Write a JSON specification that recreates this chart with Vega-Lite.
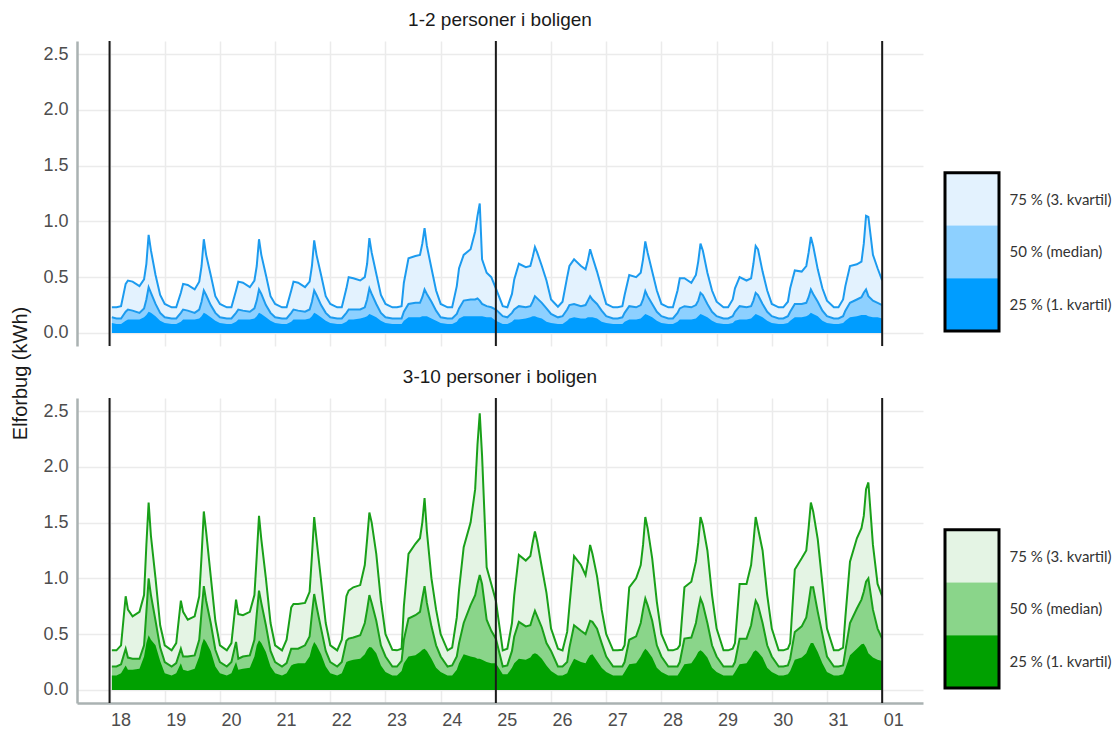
{
"$schema": "https://vega.github.io/schema/vega-lite/v6.json",
"background": "white",
"padding": {"left": 10, "top": 11, "right": 0, "bottom": 0},
"config": {"view": {"stroke": null}, "font": "Liberation Sans", "axis": {"gridColor": "#EBEBEB", "gridWidth": 1.5}},
"resolve": {"scale": {"color": "independent"}},
"datasets": {
"q": [
{"t":18.042,"a25":0.09,"a50":0.14,"a75":0.23,"b25":0.13,"b50":0.21,"b75":0.355},
{"t":18.125,"a25":0.08,"a50":0.13,"a75":0.23,"b25":0.13,"b50":0.21,"b75":0.355},
{"t":18.208,"a25":0.08,"a50":0.13,"a75":0.24,"b25":0.15,"b50":0.23,"b75":0.40},
{"t":18.292,"a25":0.11,"a50":0.19,"a75":0.44,"b25":0.22,"b50":0.37,"b75":0.84},
{"t":18.333,"a25":0.12,"a50":0.21,"a75":0.47,"b25":0.18,"b50":0.29,"b75":0.72},
{"t":18.417,"a25":0.12,"a50":0.20,"a75":0.46,"b25":0.18,"b50":0.28,"b75":0.66},
{"t":18.542,"a25":0.12,"a50":0.18,"a75":0.42,"b25":0.19,"b50":0.28,"b75":0.70},
{"t":18.625,"a25":0.14,"a50":0.22,"a75":0.48,"b25":0.30,"b50":0.40,"b75":0.85},
{"t":18.667,"a25":0.16,"a50":0.30,"a75":0.62,"b25":0.42,"b50":0.70,"b75":1.30},
{"t":18.708,"a25":0.19,"a50":0.41,"a75":0.88,"b25":0.49,"b50":1.00,"b75":1.68},
{"t":18.75,"a25":0.18,"a50":0.36,"a75":0.74,"b25":0.45,"b50":0.85,"b75":1.38},
{"t":18.833,"a25":0.15,"a50":0.26,"a75":0.52,"b25":0.40,"b50":0.62,"b75":1.00},
{"t":18.917,"a25":0.11,"a50":0.18,"a75":0.34,"b25":0.26,"b50":0.38,"b75":0.58},
{"t":19.0,"a25":0.09,"a50":0.14,"a75":0.26,"b25":0.15,"b50":0.25,"b75":0.40},
{"t":19.125,"a25":0.08,"a50":0.13,"a75":0.23,"b25":0.13,"b50":0.21,"b75":0.355},
{"t":19.208,"a25":0.08,"a50":0.13,"a75":0.23,"b25":0.15,"b50":0.24,"b75":0.42},
{"t":19.292,"a25":0.10,"a50":0.18,"a75":0.36,"b25":0.24,"b50":0.37,"b75":0.80},
{"t":19.333,"a25":0.12,"a50":0.21,"a75":0.44,"b25":0.18,"b50":0.30,"b75":0.70},
{"t":19.417,"a25":0.12,"a50":0.20,"a75":0.43,"b25":0.17,"b50":0.30,"b75":0.63},
{"t":19.542,"a25":0.12,"a50":0.18,"a75":0.39,"b25":0.19,"b50":0.31,"b75":0.66},
{"t":19.625,"a25":0.13,"a50":0.21,"a75":0.46,"b25":0.30,"b50":0.45,"b75":0.84},
{"t":19.667,"a25":0.15,"a50":0.28,"a75":0.60,"b25":0.40,"b50":0.70,"b75":1.20},
{"t":19.708,"a25":0.18,"a50":0.38,"a75":0.84,"b25":0.46,"b50":0.93,"b75":1.60},
{"t":19.75,"a25":0.17,"a50":0.34,"a75":0.70,"b25":0.43,"b50":0.80,"b75":1.42},
{"t":19.833,"a25":0.14,"a50":0.25,"a75":0.52,"b25":0.35,"b50":0.60,"b75":1.02},
{"t":19.917,"a25":0.11,"a50":0.18,"a75":0.33,"b25":0.21,"b50":0.36,"b75":0.62},
{"t":20.0,"a25":0.09,"a50":0.14,"a75":0.26,"b25":0.15,"b50":0.25,"b75":0.40},
{"t":20.125,"a25":0.08,"a50":0.13,"a75":0.23,"b25":0.13,"b50":0.21,"b75":0.355},
{"t":20.208,"a25":0.08,"a50":0.13,"a75":0.23,"b25":0.15,"b50":0.25,"b75":0.42},
{"t":20.292,"a25":0.10,"a50":0.18,"a75":0.38,"b25":0.25,"b50":0.43,"b75":0.81},
{"t":20.333,"a25":0.12,"a50":0.21,"a75":0.46,"b25":0.18,"b50":0.28,"b75":0.68},
{"t":20.417,"a25":0.12,"a50":0.20,"a75":0.45,"b25":0.19,"b50":0.30,"b75":0.67},
{"t":20.542,"a25":0.12,"a50":0.19,"a75":0.41,"b25":0.20,"b50":0.31,"b75":0.70},
{"t":20.625,"a25":0.13,"a50":0.22,"a75":0.47,"b25":0.30,"b50":0.45,"b75":0.85},
{"t":20.667,"a25":0.15,"a50":0.29,"a75":0.60,"b25":0.40,"b50":0.68,"b75":1.20},
{"t":20.708,"a25":0.18,"a50":0.39,"a75":0.84,"b25":0.445,"b50":0.89,"b75":1.56},
{"t":20.75,"a25":0.17,"a50":0.35,"a75":0.70,"b25":0.42,"b50":0.78,"b75":1.35},
{"t":20.833,"a25":0.14,"a50":0.25,"a75":0.52,"b25":0.34,"b50":0.58,"b75":1.00},
{"t":20.917,"a25":0.11,"a50":0.18,"a75":0.33,"b25":0.21,"b50":0.35,"b75":0.60},
{"t":21.0,"a25":0.09,"a50":0.14,"a75":0.26,"b25":0.15,"b50":0.25,"b75":0.40},
{"t":21.125,"a25":0.08,"a50":0.13,"a75":0.23,"b25":0.13,"b50":0.21,"b75":0.355},
{"t":21.208,"a25":0.08,"a50":0.13,"a75":0.23,"b25":0.15,"b50":0.24,"b75":0.45},
{"t":21.292,"a25":0.10,"a50":0.18,"a75":0.38,"b25":0.22,"b50":0.37,"b75":0.74},
{"t":21.333,"a25":0.12,"a50":0.21,"a75":0.46,"b25":0.23,"b50":0.37,"b75":0.77},
{"t":21.417,"a25":0.12,"a50":0.20,"a75":0.45,"b25":0.24,"b50":0.37,"b75":0.77},
{"t":21.542,"a25":0.12,"a50":0.19,"a75":0.41,"b25":0.24,"b50":0.40,"b75":0.78},
{"t":21.625,"a25":0.13,"a50":0.21,"a75":0.46,"b25":0.30,"b50":0.48,"b75":0.88},
{"t":21.667,"a25":0.15,"a50":0.28,"a75":0.60,"b25":0.38,"b50":0.68,"b75":1.20},
{"t":21.708,"a25":0.18,"a50":0.38,"a75":0.83,"b25":0.43,"b50":0.86,"b75":1.55},
{"t":21.75,"a25":0.17,"a50":0.34,"a75":0.70,"b25":0.40,"b50":0.75,"b75":1.35},
{"t":21.833,"a25":0.14,"a50":0.25,"a75":0.52,"b25":0.32,"b50":0.55,"b75":0.98},
{"t":21.917,"a25":0.11,"a50":0.18,"a75":0.33,"b25":0.21,"b50":0.35,"b75":0.60},
{"t":22.0,"a25":0.09,"a50":0.14,"a75":0.26,"b25":0.15,"b50":0.25,"b75":0.40},
{"t":22.125,"a25":0.08,"a50":0.13,"a75":0.23,"b25":0.13,"b50":0.21,"b75":0.355},
{"t":22.208,"a25":0.08,"a50":0.13,"a75":0.23,"b25":0.15,"b50":0.25,"b75":0.45},
{"t":22.292,"a25":0.10,"a50":0.18,"a75":0.40,"b25":0.25,"b50":0.44,"b75":0.84},
{"t":22.333,"a25":0.12,"a50":0.21,"a75":0.50,"b25":0.26,"b50":0.46,"b75":0.89},
{"t":22.417,"a25":0.12,"a50":0.21,"a75":0.49,"b25":0.27,"b50":0.47,"b75":0.92},
{"t":22.542,"a25":0.13,"a50":0.21,"a75":0.47,"b25":0.28,"b50":0.49,"b75":0.94},
{"t":22.625,"a25":0.14,"a50":0.23,"a75":0.50,"b25":0.32,"b50":0.60,"b75":1.12},
{"t":22.667,"a25":0.15,"a50":0.30,"a75":0.62,"b25":0.36,"b50":0.72,"b75":1.35},
{"t":22.708,"a25":0.17,"a50":0.40,"a75":0.85,"b25":0.385,"b50":0.85,"b75":1.59},
{"t":22.75,"a25":0.16,"a50":0.35,"a75":0.72,"b25":0.38,"b50":0.78,"b75":1.50},
{"t":22.833,"a25":0.14,"a50":0.26,"a75":0.53,"b25":0.33,"b50":0.62,"b75":1.22},
{"t":22.917,"a25":0.11,"a50":0.18,"a75":0.34,"b25":0.22,"b50":0.40,"b75":0.80},
{"t":23.0,"a25":0.09,"a50":0.14,"a75":0.26,"b25":0.16,"b50":0.30,"b75":0.50},
{"t":23.125,"a25":0.08,"a50":0.13,"a75":0.23,"b25":0.13,"b50":0.21,"b75":0.36},
{"t":23.208,"a25":0.08,"a50":0.13,"a75":0.23,"b25":0.13,"b50":0.21,"b75":0.355},
{"t":23.292,"a25":0.08,"a50":0.13,"a75":0.24,"b25":0.17,"b50":0.26,"b75":0.37},
{"t":23.333,"a25":0.11,"a50":0.19,"a75":0.45,"b25":0.24,"b50":0.45,"b75":0.75},
{"t":23.417,"a25":0.14,"a50":0.26,"a75":0.67,"b25":0.30,"b50":0.64,"b75":1.22},
{"t":23.542,"a25":0.14,"a50":0.27,"a75":0.69,"b25":0.31,"b50":0.67,"b75":1.31},
{"t":23.625,"a25":0.14,"a50":0.27,"a75":0.70,"b25":0.34,"b50":0.70,"b75":1.36},
{"t":23.667,"a25":0.15,"a50":0.32,"a75":0.80,"b25":0.36,"b50":0.82,"b75":1.50},
{"t":23.708,"a25":0.15,"a50":0.39,"a75":0.94,"b25":0.37,"b50":0.93,"b75":1.72},
{"t":23.75,"a25":0.15,"a50":0.35,"a75":0.78,"b25":0.35,"b50":0.78,"b75":1.42},
{"t":23.833,"a25":0.13,"a50":0.28,"a75":0.58,"b25":0.28,"b50":0.57,"b75":1.00},
{"t":23.917,"a25":0.11,"a50":0.20,"a75":0.38,"b25":0.20,"b50":0.40,"b75":0.72},
{"t":24.0,"a25":0.09,"a50":0.14,"a75":0.26,"b25":0.16,"b50":0.30,"b75":0.50},
{"t":24.125,"a25":0.08,"a50":0.13,"a75":0.23,"b25":0.13,"b50":0.21,"b75":0.355},
{"t":24.208,"a25":0.08,"a50":0.13,"a75":0.23,"b25":0.13,"b50":0.22,"b75":0.38},
{"t":24.292,"a25":0.10,"a50":0.17,"a75":0.42,"b25":0.18,"b50":0.30,"b75":0.65},
{"t":24.333,"a25":0.13,"a50":0.22,"a75":0.58,"b25":0.24,"b50":0.42,"b75":0.90},
{"t":24.417,"a25":0.15,"a50":0.29,"a75":0.70,"b25":0.32,"b50":0.60,"b75":1.28},
{"t":24.542,"a25":0.15,"a50":0.30,"a75":0.75,"b25":0.30,"b50":0.76,"b75":1.50},
{"t":24.625,"a25":0.15,"a50":0.30,"a75":0.91,"b25":0.29,"b50":0.85,"b75":1.80},
{"t":24.667,"a25":0.15,"a50":0.31,"a75":1.05,"b25":0.28,"b50":0.95,"b75":2.20},
{"t":24.708,"a25":0.15,"a50":0.29,"a75":1.16,"b25":0.28,"b50":1.03,"b75":2.48},
{"t":24.75,"a25":0.15,"a50":0.26,"a75":0.66,"b25":0.27,"b50":0.95,"b75":2.10},
{"t":24.833,"a25":0.14,"a50":0.24,"a75":0.54,"b25":0.25,"b50":0.63,"b75":1.10},
{"t":24.917,"a25":0.14,"a50":0.23,"a75":0.50,"b25":0.24,"b50":0.53,"b75":0.95},
{"t":25.0,"a25":0.11,"a50":0.21,"a75":0.40,"b25":0.24,"b50":0.46,"b75":0.80},
{"t":25.125,"a25":0.08,"a50":0.15,"a75":0.24,"b25":0.14,"b50":0.21,"b75":0.355},
{"t":25.208,"a25":0.08,"a50":0.14,"a75":0.23,"b25":0.14,"b50":0.22,"b75":0.37},
{"t":25.292,"a25":0.10,"a50":0.18,"a75":0.35,"b25":0.20,"b50":0.35,"b75":0.60},
{"t":25.333,"a25":0.12,"a50":0.21,"a75":0.48,"b25":0.24,"b50":0.48,"b75":0.85},
{"t":25.417,"a25":0.12,"a50":0.24,"a75":0.62,"b25":0.28,"b50":0.61,"b75":1.21},
{"t":25.542,"a25":0.13,"a50":0.23,"a75":0.59,"b25":0.27,"b50":0.57,"b75":1.16},
{"t":25.625,"a25":0.14,"a50":0.24,"a75":0.60,"b25":0.29,"b50":0.58,"b75":1.20},
{"t":25.667,"a25":0.15,"a50":0.28,"a75":0.68,"b25":0.32,"b50":0.65,"b75":1.32},
{"t":25.708,"a25":0.15,"a50":0.33,"a75":0.77,"b25":0.33,"b50":0.71,"b75":1.42},
{"t":25.75,"a25":0.14,"a50":0.31,"a75":0.72,"b25":0.32,"b50":0.66,"b75":1.33},
{"t":25.833,"a25":0.13,"a50":0.27,"a75":0.60,"b25":0.28,"b50":0.56,"b75":1.10},
{"t":25.917,"a25":0.10,"a50":0.22,"a75":0.47,"b25":0.22,"b50":0.42,"b75":0.87},
{"t":26.0,"a25":0.09,"a50":0.17,"a75":0.30,"b25":0.17,"b50":0.35,"b75":0.55},
{"t":26.125,"a25":0.08,"a50":0.14,"a75":0.235,"b25":0.13,"b50":0.21,"b75":0.37},
{"t":26.208,"a25":0.08,"a50":0.15,"a75":0.28,"b25":0.13,"b50":0.21,"b75":0.355},
{"t":26.292,"a25":0.11,"a50":0.21,"a75":0.50,"b25":0.15,"b50":0.25,"b75":0.52},
{"t":26.333,"a25":0.13,"a50":0.25,"a75":0.60,"b25":0.20,"b50":0.38,"b75":0.75},
{"t":26.417,"a25":0.14,"a50":0.26,"a75":0.66,"b25":0.28,"b50":0.58,"b75":1.20},
{"t":26.542,"a25":0.13,"a50":0.24,"a75":0.60,"b25":0.25,"b50":0.53,"b75":1.12},
{"t":26.625,"a25":0.13,"a50":0.25,"a75":0.57,"b25":0.24,"b50":0.50,"b75":1.03},
{"t":26.667,"a25":0.14,"a50":0.29,"a75":0.65,"b25":0.28,"b50":0.56,"b75":1.15},
{"t":26.708,"a25":0.14,"a50":0.33,"a75":0.75,"b25":0.31,"b50":0.62,"b75":1.30},
{"t":26.75,"a25":0.14,"a50":0.30,"a75":0.68,"b25":0.32,"b50":0.61,"b75":1.22},
{"t":26.833,"a25":0.13,"a50":0.26,"a75":0.55,"b25":0.26,"b50":0.55,"b75":1.02},
{"t":26.917,"a25":0.10,"a50":0.20,"a75":0.40,"b25":0.20,"b50":0.42,"b75":0.72},
{"t":27.0,"a25":0.09,"a50":0.15,"a75":0.26,"b25":0.16,"b50":0.30,"b75":0.50},
{"t":27.125,"a25":0.08,"a50":0.13,"a75":0.23,"b25":0.13,"b50":0.21,"b75":0.355},
{"t":27.208,"a25":0.08,"a50":0.13,"a75":0.23,"b25":0.13,"b50":0.21,"b75":0.355},
{"t":27.292,"a25":0.08,"a50":0.14,"a75":0.24,"b25":0.13,"b50":0.21,"b75":0.36},
{"t":27.333,"a25":0.10,"a50":0.18,"a75":0.34,"b25":0.16,"b50":0.25,"b75":0.40},
{"t":27.417,"a25":0.12,"a50":0.24,"a75":0.52,"b25":0.23,"b50":0.45,"b75":0.92},
{"t":27.542,"a25":0.12,"a50":0.23,"a75":0.50,"b25":0.24,"b50":0.48,"b75":1.00},
{"t":27.625,"a25":0.13,"a50":0.25,"a75":0.54,"b25":0.30,"b50":0.60,"b75":1.12},
{"t":27.667,"a25":0.15,"a50":0.30,"a75":0.66,"b25":0.34,"b50":0.72,"b75":1.30},
{"t":27.708,"a25":0.17,"a50":0.376,"a75":0.82,"b25":0.37,"b50":0.82,"b75":1.55},
{"t":27.75,"a25":0.16,"a50":0.33,"a75":0.72,"b25":0.35,"b50":0.76,"b75":1.45},
{"t":27.833,"a25":0.14,"a50":0.26,"a75":0.55,"b25":0.29,"b50":0.62,"b75":1.18},
{"t":27.917,"a25":0.11,"a50":0.19,"a75":0.38,"b25":0.20,"b50":0.40,"b75":0.79},
{"t":28.0,"a25":0.09,"a50":0.15,"a75":0.26,"b25":0.16,"b50":0.30,"b75":0.50},
{"t":28.125,"a25":0.08,"a50":0.13,"a75":0.23,"b25":0.13,"b50":0.21,"b75":0.355},
{"t":28.208,"a25":0.08,"a50":0.13,"a75":0.23,"b25":0.13,"b50":0.21,"b75":0.355},
{"t":28.292,"a25":0.10,"a50":0.18,"a75":0.38,"b25":0.13,"b50":0.21,"b75":0.37},
{"t":28.333,"a25":0.12,"a50":0.22,"a75":0.49,"b25":0.16,"b50":0.25,"b75":0.40},
{"t":28.417,"a25":0.12,"a50":0.24,"a75":0.49,"b25":0.23,"b50":0.46,"b75":0.92},
{"t":28.542,"a25":0.12,"a50":0.23,"a75":0.45,"b25":0.24,"b50":0.47,"b75":0.97},
{"t":28.625,"a25":0.13,"a50":0.25,"a75":0.52,"b25":0.30,"b50":0.60,"b75":1.15},
{"t":28.667,"a25":0.15,"a50":0.29,"a75":0.64,"b25":0.34,"b50":0.72,"b75":1.32},
{"t":28.708,"a25":0.17,"a50":0.36,"a75":0.80,"b25":0.355,"b50":0.82,"b75":1.55},
{"t":28.75,"a25":0.16,"a50":0.34,"a75":0.74,"b25":0.34,"b50":0.77,"b75":1.48},
{"t":28.833,"a25":0.14,"a50":0.26,"a75":0.54,"b25":0.29,"b50":0.60,"b75":1.25},
{"t":28.917,"a25":0.11,"a50":0.19,"a75":0.38,"b25":0.20,"b50":0.40,"b75":0.85},
{"t":29.0,"a25":0.09,"a50":0.15,"a75":0.28,"b25":0.16,"b50":0.30,"b75":0.55},
{"t":29.125,"a25":0.08,"a50":0.13,"a75":0.23,"b25":0.13,"b50":0.21,"b75":0.355},
{"t":29.208,"a25":0.08,"a50":0.13,"a75":0.23,"b25":0.13,"b50":0.21,"b75":0.355},
{"t":29.292,"a25":0.09,"a50":0.15,"a75":0.30,"b25":0.13,"b50":0.21,"b75":0.37},
{"t":29.333,"a25":0.11,"a50":0.19,"a75":0.40,"b25":0.16,"b50":0.25,"b75":0.42},
{"t":29.417,"a25":0.12,"a50":0.24,"a75":0.50,"b25":0.23,"b50":0.46,"b75":0.95},
{"t":29.542,"a25":0.12,"a50":0.23,"a75":0.47,"b25":0.24,"b50":0.46,"b75":0.95},
{"t":29.625,"a25":0.13,"a50":0.24,"a75":0.49,"b25":0.30,"b50":0.58,"b75":1.12},
{"t":29.667,"a25":0.15,"a50":0.29,"a75":0.62,"b25":0.34,"b50":0.70,"b75":1.32},
{"t":29.708,"a25":0.17,"a50":0.36,"a75":0.78,"b25":0.355,"b50":0.80,"b75":1.55},
{"t":29.75,"a25":0.16,"a50":0.34,"a75":0.75,"b25":0.34,"b50":0.76,"b75":1.45},
{"t":29.833,"a25":0.14,"a50":0.26,"a75":0.55,"b25":0.29,"b50":0.60,"b75":1.25},
{"t":29.917,"a25":0.11,"a50":0.19,"a75":0.38,"b25":0.20,"b50":0.40,"b75":0.85},
{"t":30.0,"a25":0.09,"a50":0.15,"a75":0.26,"b25":0.16,"b50":0.30,"b75":0.55},
{"t":30.125,"a25":0.08,"a50":0.13,"a75":0.23,"b25":0.13,"b50":0.21,"b75":0.355},
{"t":30.208,"a25":0.08,"a50":0.13,"a75":0.23,"b25":0.13,"b50":0.21,"b75":0.355},
{"t":30.292,"a25":0.09,"a50":0.15,"a75":0.28,"b25":0.14,"b50":0.22,"b75":0.37},
{"t":30.333,"a25":0.11,"a50":0.19,"a75":0.40,"b25":0.17,"b50":0.28,"b75":0.42},
{"t":30.417,"a25":0.14,"a50":0.26,"a75":0.56,"b25":0.27,"b50":0.52,"b75":1.08},
{"t":30.542,"a25":0.14,"a50":0.26,"a75":0.55,"b25":0.29,"b50":0.57,"b75":1.18},
{"t":30.625,"a25":0.15,"a50":0.27,"a75":0.60,"b25":0.33,"b50":0.65,"b75":1.25},
{"t":30.667,"a25":0.16,"a50":0.32,"a75":0.72,"b25":0.38,"b50":0.78,"b75":1.45},
{"t":30.708,"a25":0.18,"a50":0.39,"a75":0.86,"b25":0.42,"b50":0.92,"b75":1.68},
{"t":30.75,"a25":0.17,"a50":0.35,"a75":0.78,"b25":0.42,"b50":0.92,"b75":1.60},
{"t":30.833,"a25":0.15,"a50":0.28,"a75":0.57,"b25":0.34,"b50":0.70,"b75":1.35},
{"t":30.917,"a25":0.11,"a50":0.20,"a75":0.40,"b25":0.24,"b50":0.50,"b75":0.95},
{"t":31.0,"a25":0.09,"a50":0.15,"a75":0.29,"b25":0.16,"b50":0.30,"b75":0.55},
{"t":31.125,"a25":0.08,"a50":0.13,"a75":0.23,"b25":0.13,"b50":0.21,"b75":0.355},
{"t":31.208,"a25":0.08,"a50":0.13,"a75":0.23,"b25":0.13,"b50":0.21,"b75":0.355},
{"t":31.292,"a25":0.09,"a50":0.15,"a75":0.30,"b25":0.14,"b50":0.22,"b75":0.38},
{"t":31.333,"a25":0.11,"a50":0.20,"a75":0.42,"b25":0.19,"b50":0.35,"b75":0.65},
{"t":31.417,"a25":0.14,"a50":0.27,"a75":0.60,"b25":0.31,"b50":0.60,"b75":1.15},
{"t":31.542,"a25":0.15,"a50":0.30,"a75":0.615,"b25":0.37,"b50":0.73,"b75":1.36},
{"t":31.625,"a25":0.16,"a50":0.32,"a75":0.64,"b25":0.41,"b50":0.81,"b75":1.45},
{"t":31.667,"a25":0.16,"a50":0.36,"a75":0.80,"b25":0.415,"b50":0.88,"b75":1.56},
{"t":31.708,"a25":0.16,"a50":0.39,"a75":1.05,"b25":0.38,"b50":0.97,"b75":1.80},
{"t":31.75,"a25":0.15,"a50":0.33,"a75":1.04,"b25":0.33,"b50":1.00,"b75":1.86},
{"t":31.833,"a25":0.14,"a50":0.29,"a75":0.70,"b25":0.29,"b50":0.72,"b75":1.30},
{"t":31.917,"a25":0.14,"a50":0.27,"a75":0.58,"b25":0.27,"b50":0.55,"b75":0.95},
{"t":32.0,"a25":0.13,"a50":0.25,"a75":0.47,"b25":0.26,"b50":0.46,"b75":0.84}
],
"weeks": [{"w":18},{"w":25},{"w":32}],
"lg": [{"k":"75 % (3. kvartil)","lo":2,"hi":3},{"k":"50 % (median)","lo":1,"hi":2},{"k":"25 % (1. kvartil)","lo":0,"hi":1}]
},
"columns": 2,
"spacing": {"row": 52, "column": 22},
"bounds": "flush",
"concat": [
{
"data": {"name": "q"},
"width": 846, "height": 305,
"title": {"text": "1-2 personer i boligen", "fontSize": 19, "fontWeight": "normal", "color": "#1A1A1A", "offset": 10, "font": "Liberation Sans"},
"layer": [
{"mark": {"type": "area", "color": "#E3F2FE"}, "encoding": {
"x": {"field": "t", "type": "quantitative", "scale": {"domain": [17.41, 32.74], "nice": false, "zero": false}, "axis": {"title": null, "values": [18,19,20,21,22,23,24,25,26,27,28,29,30,31,32], "labels": false, "ticks": false, "domain": false, "grid": true}},
"y": {"field": "a75", "type": "quantitative", "scale": {"domain": [-0.117, 2.617], "nice": false, "zero": false}, "axis": {"title": "Elforbug (kWh)", "values": [0,0.5,1,1.5,2,2.5], "format": ".1f", "labelFontSize": 18, "labelColor": "#4D4D4D", "ticks": false, "domainColor": "#AAB2B2", "domainWidth": 2.5, "labelPadding": 9, "grid": true, "titleFontSize": 20, "titleFontWeight": "normal", "titleColor": "#1A1A1A", "titleX": -47, "titleY": 332, "titleAngle": 270, "titleBaseline": "bottom", "titleAlign": "center"}},
"y2": {"datum": 0}}},
{"mark": {"type": "area", "color": "#8DD0FF"}, "encoding": {"x": {"field": "t", "type": "quantitative"}, "y": {"field": "a50", "type": "quantitative"}, "y2": {"datum": 0}}},
{"mark": {"type": "area", "color": "#009DFF"}, "encoding": {"x": {"field": "t", "type": "quantitative"}, "y": {"field": "a25", "type": "quantitative"}, "y2": {"datum": 0}}},
{"mark": {"type": "line", "color": "#1C9BEF", "strokeWidth": 2}, "encoding": {"x": {"field": "t", "type": "quantitative"}, "y": {"field": "a75", "type": "quantitative"}}},
{"mark": {"type": "line", "color": "#1C9BEF", "strokeWidth": 2}, "encoding": {"x": {"field": "t", "type": "quantitative"}, "y": {"field": "a50", "type": "quantitative"}}},
{"data": {"name": "weeks"}, "mark": {"type": "rule", "color": "#1A1A1A", "strokeWidth": 2}, "encoding": {"x": {"field": "w", "type": "quantitative"}}}
]
},
{
"data": {"name": "lg"},
"width": 54, "height": 305,
"layer": [
{"mark": {"type": "rect"}, "encoding": {
"y": {"field": "lo", "type": "quantitative", "scale": {"domain": [-0.285, 5.5], "nice": false, "zero": false}, "axis": {"orient": "right", "title": null, "values": [0.5,1.5,2.5], "labelExpr": "datum.value < 1 ? '25 % (1. kvartil)' : datum.value < 2 ? '50 % (median)' : '75 % (3. kvartil)'", "domain": false, "ticks": false, "grid": false, "labelFont": "Lato", "labelFontSize": 15, "labelColor": "#333333", "labelPadding": 10}},
"y2": {"field": "hi"},
"color": {"field": "k", "type": "nominal", "scale": {"domain": ["75 % (3. kvartil)","50 % (median)","25 % (1. kvartil)"], "range": ["#E3F2FE","#8DD0FF","#009DFF"]}, "legend": null}}},
{"transform": [{"aggregate": [{"op": "min", "field": "lo", "as": "lo"}, {"op": "max", "field": "hi", "as": "hi"}]}],
"mark": {"type": "rect", "fillOpacity": 0, "stroke": "#000000", "strokeWidth": 3}, "encoding": {"y": {"field": "lo", "type": "quantitative"}, "y2": {"field": "hi"}}}
]
},
{
"data": {"name": "q"},
"width": 846, "height": 305,
"title": {"text": "3-10 personer i boligen", "fontSize": 19, "fontWeight": "normal", "color": "#1A1A1A", "offset": 10, "font": "Liberation Sans"},
"layer": [
{"mark": {"type": "area", "color": "#E4F4E4"}, "encoding": {
"x": {"field": "t", "type": "quantitative", "scale": {"domain": [17.41, 32.74], "nice": false, "zero": false}, "axis": {"title": null, "values": [18,19,20,21,22,23,24,25,26,27,28,29,30,31,32], "labelExpr": "datum.value == 32 ? '01' : '' + datum.value", "labelOffset": 11, "labelFontSize": 18, "labelColor": "#4D4D4D", "labelPadding": 8, "ticks": false, "domain": true, "domainColor": "#AAB2B2", "domainWidth": 2.5, "grid": true}},
"y": {"field": "b75", "type": "quantitative", "scale": {"domain": [-0.117, 2.617], "nice": false, "zero": false}, "axis": {"title": null, "values": [0,0.5,1,1.5,2,2.5], "format": ".1f", "labelFontSize": 18, "labelColor": "#4D4D4D", "ticks": false, "domainColor": "#AAB2B2", "domainWidth": 2.5, "labelPadding": 9, "grid": true}},
"y2": {"datum": 0}}},
{"mark": {"type": "area", "color": "#8AD58A"}, "encoding": {"x": {"field": "t", "type": "quantitative"}, "y": {"field": "b50", "type": "quantitative"}, "y2": {"datum": 0}}},
{"mark": {"type": "area", "color": "#00A000"}, "encoding": {"x": {"field": "t", "type": "quantitative"}, "y": {"field": "b25", "type": "quantitative"}, "y2": {"datum": 0}}},
{"mark": {"type": "line", "color": "#19A019", "strokeWidth": 2}, "encoding": {"x": {"field": "t", "type": "quantitative"}, "y": {"field": "b75", "type": "quantitative"}}},
{"mark": {"type": "line", "color": "#19A019", "strokeWidth": 2}, "encoding": {"x": {"field": "t", "type": "quantitative"}, "y": {"field": "b50", "type": "quantitative"}}},
{"data": {"name": "weeks"}, "mark": {"type": "rule", "color": "#1A1A1A", "strokeWidth": 2}, "encoding": {"x": {"field": "w", "type": "quantitative"}}}
]
},
{
"data": {"name": "lg"},
"width": 54, "height": 305,
"layer": [
{"mark": {"type": "rect"}, "encoding": {
"y": {"field": "lo", "type": "quantitative", "scale": {"domain": [-0.285, 5.5], "nice": false, "zero": false}, "axis": {"orient": "right", "title": null, "values": [0.5,1.5,2.5], "labelExpr": "datum.value < 1 ? '25 % (1. kvartil)' : datum.value < 2 ? '50 % (median)' : '75 % (3. kvartil)'", "domain": false, "ticks": false, "grid": false, "labelFont": "Lato", "labelFontSize": 15, "labelColor": "#333333", "labelPadding": 10}},
"y2": {"field": "hi"},
"color": {"field": "k", "type": "nominal", "scale": {"domain": ["75 % (3. kvartil)","50 % (median)","25 % (1. kvartil)"], "range": ["#E4F4E4","#8AD58A","#00A000"]}, "legend": null}}},
{"transform": [{"aggregate": [{"op": "min", "field": "lo", "as": "lo"}, {"op": "max", "field": "hi", "as": "hi"}]}],
"mark": {"type": "rect", "fillOpacity": 0, "stroke": "#000000", "strokeWidth": 3}, "encoding": {"y": {"field": "lo", "type": "quantitative"}, "y2": {"field": "hi"}}}
]
}
]
}
